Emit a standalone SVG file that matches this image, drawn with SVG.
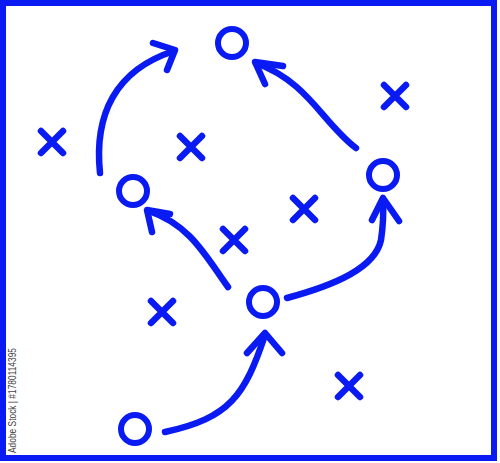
<svg xmlns="http://www.w3.org/2000/svg" width="500" height="463" viewBox="0 0 500 463">
<style>
.ln{fill:none;stroke:#0a1af2;stroke-width:6.5;stroke-linecap:round;stroke-linejoin:round}
.o{fill:none;stroke:#0a1af2;stroke-width:6}
.x{fill:none;stroke:#0a1af2;stroke-width:6.5;stroke-linecap:round}
.wm{font-family:"Liberation Sans",Arial,sans-serif;font-size:10px;fill:#444}
</style>
<defs>
<path id="xm" class="x" d="M-11,-11 L11,11 M11,-11 L-11,11"/>
</defs>
<rect x="3" y="3" width="491" height="455" fill="#fff" stroke="#0a1af2" stroke-width="6"/>
<g id="connectors">
<path class="ln" d="M100,173 C94,115 115,70 174,51"/>
<path class="ln" d="M153,43 L175,50 L167,70"/>
<path class="ln" d="M356,148 C322,122 308,82 256,63"/>
<path class="ln" d="M283,66 L255,62 L265,84"/>
<path class="ln" d="M228,287 C205,255 190,225 149,211"/>
<path class="ln" d="M170,214 L147,210 L152,232"/>
<path class="ln" d="M287,298 C335,285 375,268 381,240 Q384,220 383,200"/>
<path class="ln" d="M372,220 L383,198 L399,221"/>
<path class="ln" d="M165,432 C230,418 245,395 265,335"/>
<path class="ln" d="M247,353 L265,333 L282,353"/>
</g>
<g id="o1"><circle class="o" cx="232" cy="43" r="14"/></g>
<g id="o2"><circle class="o" cx="133" cy="191" r="14"/></g>
<g id="o3"><circle class="o" cx="383" cy="175" r="14"/></g>
<g id="o4"><circle class="o" cx="263" cy="302" r="14"/></g>
<g id="o5"><circle class="o" cx="135" cy="429" r="14"/></g>
<g id="x1"><use href="#xm" x="52" y="142"/></g>
<g id="x2"><use href="#xm" x="191" y="147"/></g>
<g id="x3"><use href="#xm" x="395" y="96"/></g>
<g id="x4"><use href="#xm" x="304" y="209"/></g>
<g id="x5"><use href="#xm" x="234" y="240"/></g>
<g id="x6"><use href="#xm" x="162" y="312"/></g>
<g id="x7"><use href="#xm" x="349" y="386"/></g>
<text class="wm" transform="translate(16,453) rotate(-90)" textLength="105" lengthAdjust="spacingAndGlyphs">Adobe Stock | #1780114395</text>
</svg>
